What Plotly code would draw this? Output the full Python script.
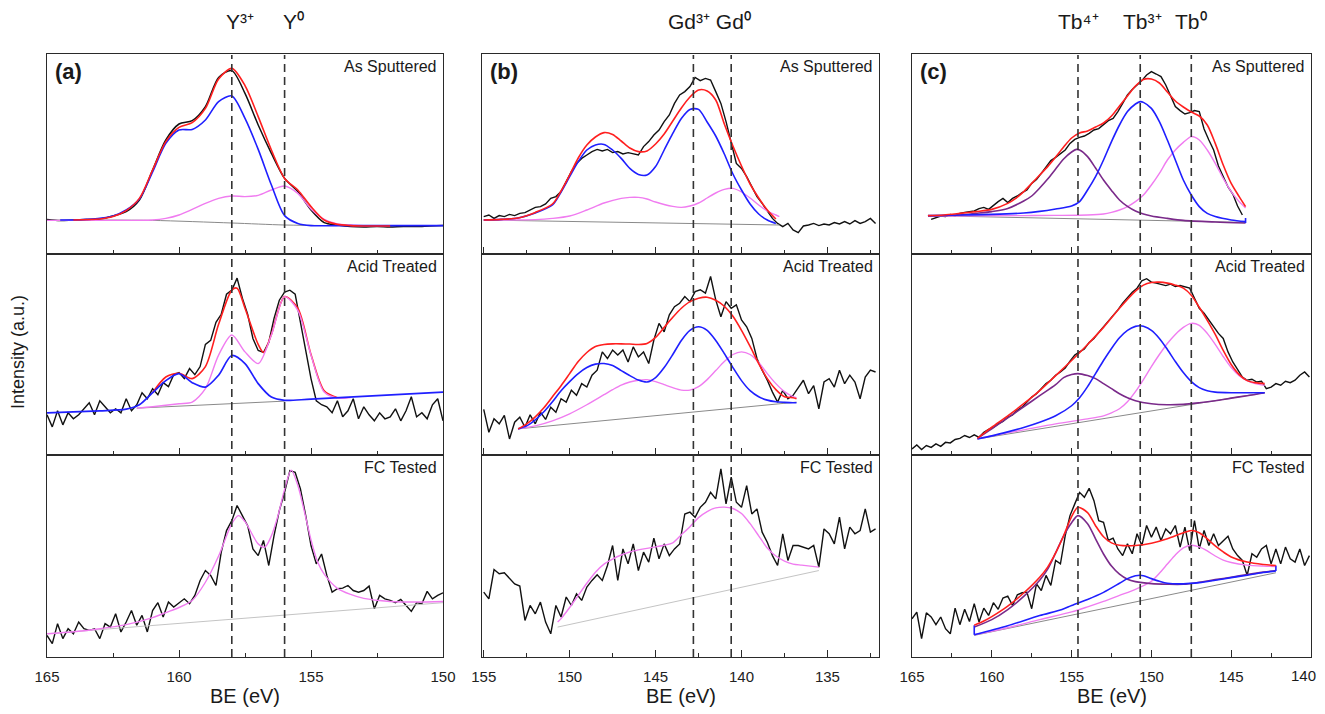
import numpy as np
import plotly.graph_objects as go

W, H = 1325, 714
OX, OY = 8, 8          # page offset of the figure inside the browser window
FONT = "Liberation Sans, Arial, Helvetica, sans-serif"

# ---------------- energy grids (eV) ----------------
BE_A = np.round(np.arange(165.0, 149.99, -0.2), 2)      # column (a) spectra
BE_A_SMOOTH = np.round(np.arange(165.0, 149.99, -0.5), 2)
BE_B = np.round(np.arange(155.0, 132.19, -0.3), 2)      # column (b) spectra
BE_C = np.round(np.arange(165.0, 140.09, -0.3), 2)      # column (c) spectra

# ---------------- (a) Y 3d ----------------
a_top_black = [17.3, 16.7, 17.0, 17.2, 17.5, 19.0, 21.2, 27.0, 42.0, 57.0, 65.0, 66.7, 73.7, 88.3, 91.7, 80.3,
               64.5, 50.3, 37.8, 31.2, 22.0, 15.7, 14.5, 13.7, 13.5, 13.7, 13.5, 13.8, 13.7, 14.0, 14.2]
a_top_red_x = [164, 163, 162.5, 162, 161.5, 161, 160.5, 160, 159.5, 159, 158.5, 158, 157.5, 157, 156.5, 156,
               155.5, 155, 154.5, 154, 153.5, 153, 152]
a_top_red = [17.0, 17.5, 18.7, 21.7, 27.8, 42.0, 56.2, 63.3, 65.7, 72.8, 87.5, 92.8, 84.2, 68.7, 52.0, 37.8,
             32.0, 23.7, 17.0, 14.8, 14.2, 14.0, 14.0]
a_top_blue_x = [164.5, 164, 163.5, 163, 162.5, 162, 161.5, 161, 160.5, 160, 159.5, 159, 158.5, 158, 157.5, 157,
                156.5, 156, 155.5, 155, 154, 152, 150]
a_top_blue = [17.0, 17.0, 17.3, 17.8, 19.0, 22.0, 27.5, 41.0, 55.3, 62.0, 62.3, 67.0, 76.2, 79.0, 67.8, 52.3,
              34.5, 19.2, 15.3, 14.2, 14.2, 14.2, 14.2]
a_top_pink_x = [165, 163, 161, 160.5, 160, 159.5, 159, 158.5, 158, 157.5, 157, 156.5, 156, 155.5, 155, 154.5,
                154, 153.5, 153, 152]
a_top_pink = [16.8, 16.8, 17.0, 17.8, 19.5, 22.3, 25.3, 27.8, 29.0, 28.7, 29.3, 32.0, 34.0, 30.3, 22.5, 17.3,
              15.0, 14.5, 14.2, 14.2]
a_top_gray_x = [163, 161, 158, 156, 154]
a_top_gray = [17.0, 16.8, 15.5, 14.5, 14.2]

a_mid_black = [20, 14, 22, 15, 21, 18, 20, 23, 26, 20, 27, 24, 21, 23, 21, 28, 22, 25, 31, 28,
               33, 30, 36, 34, 40, 41, 38, 43, 40, 44, 55, 57, 66, 70, 80, 82, 88, 78, 70, 58,
               52, 51, 56, 68, 77, 81, 82, 80, 66, 52, 38, 27, 25, 24, 21, 27, 19, 22, 28, 18,
               24, 20, 17, 21, 18, 19, 23, 17, 22, 29, 19, 21, 18, 25, 28, 17]
a_mid_blue_x = [165, 164, 163, 162, 161.5, 161, 160.5, 160, 159.5, 159, 158.5, 158, 157.5, 157, 156.5, 156,
                155, 150]
a_mid_blue = [21.0, 21.5, 22.0, 22.8, 25.0, 31.0, 37.0, 40.5, 36.0, 33.8, 39.7, 49.5, 45.5, 35.5, 28.8, 27.2,
              27.8, 31.3]
a_mid_pink_x = [161.6, 161, 160, 159.5, 159, 158.5, 158, 157.5, 157, 156.5, 156, 155.5, 155, 154.5, 154, 153.5]
a_mid_pink = [23.3, 24.0, 25.5, 26.3, 33.0, 49.7, 59.7, 51.3, 45.5, 59.7, 78.8, 72.0, 49.7, 31.3, 28.3, 28.6]
a_mid_red_x = [161, 160.5, 160, 159.5, 159, 158.5, 158, 157.8, 157.5, 157, 156.8, 156.5, 156, 155.5, 155,
               154.5, 154]
a_mid_red = [31.0, 38.8, 40.7, 38.0, 44.0, 65.0, 82.0, 83.0, 73.0, 55.0, 51.0, 60.0, 78.8, 73.0, 50.0, 32.0, 28.5]
a_mid_gray_x = [161.6, 156]
a_mid_gray = [23.3, 26.8]

a_bot_black = [10.7, 6.6, 16.5, 9.1, 14.0, 11.5, 17.3, 14.0, 13.2, 14.0, 9.1, 16.5, 14.8, 21.4, 12.4, 17.3,
               23.0, 15.7, 20.6, 12.4, 23.0, 26.9, 19.8, 27.2, 24.7, 26.9, 28.8, 26.4, 30.5, 37.9, 42.8, 40.4,
               35.4, 51.9, 62.6, 67.5, 75.0, 70.0, 65.0, 53.5, 50.2, 57.7, 45.3, 60.1, 72.5, 81.5, 92.3, 91.4,
               83.2, 70.0, 55.2, 46.1, 51.0, 40.4, 32.1, 33.8, 34.1, 35.4, 32.9, 32.1, 32.9, 35.1, 23.9, 30.5,
               28.8, 28.0, 26.9, 28.5, 25.5, 22.6, 26.9, 26.4, 32.5, 28.8, 30.5, 31.8]
a_bot_pink_x = [165, 164, 163, 162, 161, 160.5, 160, 159.5, 159, 158.5, 158, 157.75, 157.5, 157, 156.75, 156.5,
                156.25, 156, 155.75, 155.5, 155.25, 155, 154.75, 154.5, 154, 153.5, 153, 152, 151, 150]
a_bot_pink = [11.5, 12.5, 14.0, 16.0, 19.5, 22.0, 24.5, 28.0, 37.0, 50.0, 66.0, 70.0, 67.0, 56.0, 54.4, 60.0,
              70.0, 83.0, 92.5, 85.0, 72.0, 58.0, 47.0, 41.0, 34.0, 31.0, 29.0, 27.5, 27.2, 27.5]
a_bot_gray_x = [165, 150]
a_bot_gray = [11.5, 26.9]

# ---------------- (b) Gd 4d ----------------
b_top_black = [18.7, 19.5, 17.8, 19.2, 18.7, 19.8, 19.2, 20.3, 20.7, 22.0, 23.3, 23.7, 25.0, 27.8, 28.7, 31.2,
               36.2, 41.2, 45.3, 47.8, 49.5, 51.2, 52.3, 51.5, 52.3, 50.7, 51.2, 50.0, 50.7, 50.0, 49.5, 53.7,
               56.2, 59.5, 62.0, 66.2, 69.5, 75.3, 79.5, 81.2, 83.7, 88.3, 86.7, 87.8, 87.0, 81.2, 75.3, 66.2,
               56.2, 45.3, 42.8, 38.7, 33.7, 28.7, 25.3, 21.2, 17.8, 15.3, 13.7, 15.3, 12.0, 10.7, 14.0, 14.5,
               15.3, 14.2, 15.0, 14.5, 15.7, 15.0, 16.2, 15.0, 16.7, 15.3, 16.2, 17.8, 15.3]
b_top_fit_x = [155, 154, 153, 152, 151, 150.5, 150, 149.5, 149, 148.5, 148, 147.5, 147, 146.5, 146, 145.5, 145,
               144.5, 144, 143.5, 143, 142.5, 142, 141.5, 141, 140.5, 140, 139.5, 139, 138.5, 138]
b_top_red = [17.0, 17.3, 18.0, 20.8, 25.0, 31.5, 39.5, 48.0, 54.5, 58.5, 60.7, 59.8, 56.5, 53.0, 51.2, 51.5, 55.0,
             60.0, 66.5, 73.0, 78.5, 82.0, 81.5, 77.0, 65.0, 54.0, 44.0, 35.0, 28.0, 22.0, 17.5]
b_top_blue = [17.0, 17.3, 18.0, 20.5, 24.5, 31.0, 38.7, 46.2, 52.0, 54.5, 54.8, 52.0, 47.8, 42.8, 39.8, 39.5, 43.7,
              52.0, 60.3, 67.8, 72.3, 72.3, 66.0, 59.0, 50.0, 40.0, 32.0, 25.0, 20.0, 17.0, 15.3]
b_top_pink_x = [155, 152, 151, 150, 149, 148, 147, 146.5, 146, 145.5, 145, 144, 143.5, 143, 142.5, 142, 141.5,
                141, 140.5, 140, 139.5, 139, 138.5, 138, 137.8]
b_top_pink = [17.0, 17.2, 17.8, 19.0, 22.0, 25.5, 27.8, 28.3, 28.3, 27.5, 26.0, 23.8, 23.3, 24.0, 25.5, 28.0, 30.5,
              32.3, 32.8, 31.0, 28.0, 24.5, 21.5, 19.5, 18.7]
b_top_gray_x = [155, 137.8]
b_top_gray = [17.0, 14.5]

b_mid_black = [22.7, 11.3, 18.0, 15.5, 19.7, 8.0, 16.3, 18.8, 13.8, 20.0, 15.5, 21.3, 17.7, 23.8, 21.3, 28.0,
               26.3, 32.2, 29.7, 35.5, 33.8, 39.7, 42.2, 51.3, 48.0, 52.2, 49.7, 52.2, 46.3, 53.8, 48.8, 51.3,
               45.5, 57.2, 65.5, 61.3, 69.7, 73.8, 75.5, 78.8, 76.3, 81.3, 82.2, 80.5, 88.8, 77.2, 68.8, 76.3,
               73.0, 74.7, 67.2, 63.8, 58.0, 48.0, 42.2, 37.2, 31.3, 26.3, 32.2, 28.0, 29.7, 33.8, 37.2, 30.5,
               34.5, 23.0, 36.3, 38.0, 33.8, 42.2, 35.5, 39.7, 36.3, 28.0, 38.8, 42.2, 41.3]
b_mid_fit_x = [153, 152.5, 152, 151.5, 151, 150.5, 150, 149.5, 149, 148.5, 148, 147.5, 147, 146.5, 146, 145.5,
               145, 144.5, 144, 143.5, 143, 142.5, 142, 141.5, 141, 140.5, 140, 139.5, 139, 138.5, 138, 137.5,
               137, 136.8]
b_mid_red = [13.0, 15.5, 19.0, 23.5, 29.0, 34.5, 40.5, 46.5, 51.0, 54.0, 55.0, 55.3, 55.3, 55.2, 55.0, 55.5,
             58.5, 63.5, 68.5, 73.0, 76.3, 78.0, 78.5, 77.0, 74.0, 69.0, 62.0, 54.0, 45.5, 38.0, 32.5, 29.0,
             28.5, 28.0]
b_mid_blue = [13.0, 14.5, 17.5, 21.5, 26.5, 32.0, 36.5, 40.5, 43.5, 45.2, 45.5, 44.5, 42.0, 39.5, 37.3, 36.3,
              38.5, 43.5, 50.0, 57.0, 62.0, 63.8, 62.0, 57.0, 50.5, 43.5, 37.0, 32.0, 29.0, 27.3, 26.5, 26.2,
              26.0, 26.0]
b_mid_pink_x = [153, 152, 151, 150, 149, 148, 147.5, 147, 146.5, 146, 145.5, 145, 144.5, 144, 143.5, 143, 142.5,
                142, 141.5, 141, 140.5, 140, 139.5, 139, 138.5, 138, 137.5, 137, 136.8]
b_mid_pink = [13.0, 14.5, 17.0, 20.5, 25.0, 30.0, 32.5, 34.8, 36.3, 37.2, 37.5, 36.5, 35.0, 33.5, 32.3, 32.3, 34.0,
              37.5, 42.0, 46.5, 50.0, 51.3, 50.0, 46.0, 40.5, 35.5, 31.5, 29.0, 28.5]
b_mid_gray_x = [153, 136.8]
b_mid_gray = [13.0, 26.3]

b_bot_black = [32.1, 28.8, 43.3, 41.2, 41.7, 39.0, 36.2, 35.1, 18.1, 25.5, 21.4, 27.2, 17.3, 11.5, 25.5, 19.8,
               29.7, 25.5, 31.3, 28.0, 34.6, 37.9, 40.7, 37.9, 45.3, 55.2, 37.9, 53.5, 46.1, 56.0, 42.8, 51.9,
               47.0, 58.8, 48.6, 56.0, 50.2, 53.5, 56.0, 70.8, 71.7, 69.2, 74.1, 76.6, 81.5, 78.3, 93.1, 75.8,
               89.0, 76.6, 74.1, 84.8, 70.8, 73.3, 61.8, 56.8, 50.2, 45.3, 61.0, 47.8, 55.2, 55.2, 54.4, 53.5,
               55.2, 44.5, 63.4, 61.0, 56.0, 69.2, 53.5, 64.3, 61.0, 62.6, 73.3, 61.8, 63.4]
b_bot_pink_x = [150.7, 150.5, 150, 149.5, 149, 148.5, 148, 147.5, 147, 146.5, 146, 145.5, 145, 144.5, 144, 143.5,
                143, 142.5, 142, 141.5, 141, 140.5, 140, 139.5, 139, 138.5, 138, 137.5, 137, 136.5, 136, 135.5]
b_bot_pink = [17.3, 19.0, 24.5, 30.5, 36.5, 42.0, 46.0, 48.5, 50.5, 52.0, 53.0, 53.8, 54.5, 55.3, 56.5, 60.5,
              64.5, 69.0, 72.0, 73.8, 74.2, 73.5, 71.0, 66.0, 60.0, 54.0, 50.0, 47.5, 46.0, 45.5, 45.0, 44.5]
b_bot_gray_x = [150.7, 135.5]
b_bot_gray = [14.8, 42.8]

# ---------------- (c) Tb 4d ----------------
c_top_black = [None, None, None, None,
               17.3, 18.2, 19.0, 18.7, 19.7, 19.0, 20.3, 20.8, 21.0, 21.5,
               22.7, 23.3, 22.3, 24.5, 26.2, 27.8, 25.7, 27.8, 29.0, 30.7,
               32.0, 35.3, 37.3, 40.3, 43.7, 46.7, 48.3, 50.3, 52.0, 55.3,
               57.3, 58.3, 59.0, 60.3, 62.0, 62.7, 64.5, 66.7, 67.8, 71.2,
               75.3, 79.5, 82.3, 84.5, 86.7, 89.5, 91.2, 90.0, 88.7, 84.5,
               79.5, 73.7, 71.7, 70.0, 70.7, 71.7, 71.2, 62.5, 57.0, 52.0,
               44.0, 39.0, 33.5, 30.0, 24.0, 19.5,
               None, None, None, None, None, None, None, None, None, None, None, None, None, None]
c_top_red_x = [164, 163, 162, 161, 160, 159, 158.5, 158, 157.5, 157, 156.5, 156, 155.5, 155, 154.5, 154, 153.5,
               153, 152.5, 152, 151.5, 151, 150.5, 150, 149.5, 149, 148.5, 148, 147.5, 147, 146.5, 146, 145.5,
               145, 144.5, 144.1]
c_top_red = [19.2, 19.5, 20.3, 21.2, 22.3, 25.3, 27.8, 31.2, 35.3, 39.5, 43.7, 48.5, 53.5, 58.0, 60.5, 61.5, 63.5,
             65.5, 69.0, 74.0, 79.0, 84.0, 87.3, 87.5, 85.5, 81.0, 76.5, 73.5, 71.0, 69.0, 64.5, 55.3, 44.5,
             35.3, 28.7, 23.7]
c_top_blue_x = [164, 162, 160, 158, 157, 156, 155, 154.5, 154, 153.5, 153, 152.5, 152, 151.5, 151, 150.7, 150.5,
                150, 149.5, 149, 148.5, 148, 147.5, 147, 146.5, 146, 145, 144.1]
c_top_blue = [19.2, 19.5, 19.8, 20.5, 21.3, 22.5, 24.0, 26.2, 32.0, 38.7, 47.0, 56.2, 64.5, 71.2, 75.0, 76.2,
              75.8, 72.8, 66.2, 57.0, 47.0, 37.0, 29.5, 23.7, 20.3, 18.7, 17.0, 16.2]
c_top_edge_x = [144.1, 144.1]
c_top_edge = [15.5, 18.0]
c_top_purple_x = [164, 162, 161, 160, 159, 158, 157.5, 157, 156.5, 156, 155.5, 155, 154.7, 154.5, 154, 153.5,
                  153, 152.5, 152, 151.5, 151, 150.5, 150, 149, 148, 146, 144.1]
c_top_purple = [19.0, 19.5, 20.3, 21.2, 22.8, 26.5, 29.0, 33.0, 37.5, 42.5, 47.5, 51.0, 52.3, 52.0, 48.7, 43.0,
                37.0, 31.8, 27.0, 23.8, 21.5, 20.0, 19.0, 17.8, 16.8, 16.0, 15.5]
c_top_pink_x = [164, 158, 156, 154, 153, 152.5, 152, 151.5, 151, 150.5, 150, 149.5, 149, 148.5, 148, 147.5, 147,
                146.5, 146, 145.5, 145, 144.5, 144.1]
c_top_pink = [19.0, 19.2, 19.3, 19.5, 20.0, 20.8, 22.0, 23.7, 26.2, 29.5, 34.5, 40.3, 47.0, 52.0, 55.8, 58.7,
              57.0, 52.0, 45.3, 37.8, 31.2, 26.2, 23.0]
c_top_gray_x = [164, 144.1]
c_top_gray = [19.2, 15.8]

c_mid_black = [3.0, 5.0, 2.7, 4.7, 3.8, 5.5, 4.3, 6.3, 6.0, 7.7,
               8.3, 9.7, 8.7, 10.0, 8.8, 11.3, 12.7, 13.7, 15.5, 16.7,
               18.8, 20.0, 22.2, 23.8, 26.3, 28.8, 30.5, 33.0, 35.5, 37.2,
               39.7, 41.3, 43.3, 46.7, 49.7, 51.3, 52.7, 56.0, 58.0, 61.0,
               63.8, 66.3, 69.3, 72.2, 75.5, 78.3, 81.0, 83.0, 86.7, 87.7,
               86.0, 85.5, 85.0, 84.3, 85.0, 83.8, 84.3, 83.7, 83.0, 78.0,
               73.0, 70.5, 67.2, 63.8, 60.5, 58.0, 51.3, 46.3, 42.2, 38.8,
               37.2, 37.7, 36.3, 36.7, 33.0, 33.8, 35.5, 34.7, 36.7, 36.0,
               37.2, 39.7, 41.3, 38.8]
c_mid_red_x = [160.9, 160.5, 160, 159, 158, 157, 156, 155, 154, 153, 152, 151, 150.5, 150, 149.5, 149, 148.5,
               148, 147.5, 147, 146.5, 146, 145.5, 145, 144.5, 144, 143.5, 142.9]
c_mid_red = [8.3, 10.8, 13.8, 19.5, 25.5, 32.0, 39.5, 47.0, 55.0, 63.5, 73.0, 81.5, 84.5, 85.8, 86.0, 85.5, 84.5,
             83.0, 79.5, 73.5, 67.0, 60.0, 52.0, 45.0, 40.0, 37.0, 36.0, 35.5]
c_mid_blue_x = [160.9, 160, 159, 158, 157, 156, 155, 154.5, 154, 153.5, 153, 152.5, 152, 151.5, 151, 150.7,
                150.5, 150, 149.5, 149, 148.5, 148, 147.5, 147, 146.5, 146, 145, 142.9]
c_mid_blue = [8.0, 9.5, 11.5, 13.7, 16.3, 19.5, 24.5, 28.5, 34.0, 40.5, 47.0, 53.0, 58.3, 62.0, 64.0, 64.3,
              64.0, 62.0, 58.0, 52.5, 46.5, 41.0, 36.5, 33.5, 32.0, 31.3, 31.0, 31.0]
c_mid_purple_x = [160.9, 160, 159, 158, 157, 156, 155.5, 155, 154.6, 154, 153.5, 153, 152.5, 152, 151.5, 151,
                  150, 149, 148, 147, 146, 145, 144, 142.9]
c_mid_purple = [8.3, 13.0, 18.5, 24.0, 29.5, 35.0, 38.5, 40.0, 40.5, 39.5, 38.0, 35.5, 33.0, 30.5, 28.5, 27.0,
                25.5, 25.0, 25.2, 26.0, 27.0, 28.3, 29.5, 31.0]
c_mid_pink_x = [160.9, 160, 158, 156, 154, 153, 152.5, 152, 151.5, 151, 150.5, 150, 149.5, 149, 148.5, 148,
                147.5, 147, 146.5, 146, 145.5, 145, 144.5, 144, 143.5, 142.9]
c_mid_pink = [8.0, 9.5, 12.5, 15.5, 18.0, 19.5, 21.0, 23.0, 26.5, 31.5, 37.5, 44.0, 50.0, 55.5, 60.0, 63.5,
              65.5, 64.5, 60.5, 55.0, 49.0, 43.5, 39.5, 37.0, 35.5, 34.7]
c_mid_gray_x = [160.9, 142.9]
c_mid_gray = [8.0, 31.0]

c_bot_black = [18.9, 22.2, 9.1, 21.9, 19.8, 16.0, 19.8, 14.0, 11.5, 24.2,
               16.0, 23.6, 17.6, 26.4, 17.3, 24.2, 20.6, 26.9, 23.6, 29.2,
               30.1, 25.5, 30.8, 31.8, 32.1, 23.9, 36.2, 32.9, 40.4, 35.4,
               47.8, 46.1, 60.1, 70.0, 75.8, 81.5, 79.1, 83.5, 77.4, 67.5,
               66.7, 57.7, 58.8, 53.5, 50.2, 56.0, 51.1, 61.0, 55.2, 65.1,
               59.3, 64.3, 57.7, 63.4, 61.0, 65.1, 54.4, 64.3, 52.7, 67.5,
               53.5, 62.6, 55.2, 61.0, 55.2, 57.7, 59.8, 53.5, 50.2, 47.8,
               40.4, 51.1, 49.4, 53.5, 55.2, 46.1, 53.5, 46.1, 54.4, 48.6,
               47.0, 53.5, 45.3, 50.2]
c_bot_red_x = [161.1, 160.5, 160, 159, 158, 157, 156.5, 156, 155.5, 155, 154.6, 154, 153.5, 153, 152.5, 152,
               151, 150, 149, 148, 147.5, 147, 146.5, 146, 145.5, 145, 144, 143, 142.2]
c_bot_red = [15.7, 17.8, 20.0, 25.2, 31.7, 39.5, 44.5, 51.5, 60.0, 69.5, 74.1, 71.5, 65.0, 59.5, 56.5, 55.3,
             55.2, 56.3, 58.5, 61.5, 62.6, 61.5, 58.5, 55.0, 52.0, 49.5, 47.0, 45.8, 45.3]
c_bot_purple_x = [161.1, 160, 159, 158, 157, 156.5, 156, 155.5, 155, 154.6, 154, 153.5, 153, 152.5, 152, 151.5,
                  151, 150, 149, 148, 147, 146, 145, 144, 143, 142.2]
c_bot_purple = [14.8, 18.5, 23.5, 30.0, 38.0, 43.5, 51.5, 60.0, 66.5, 70.0, 66.0, 58.5, 51.0, 45.0, 41.0, 38.5,
                37.3, 36.3, 36.0, 36.0, 37.0, 38.3, 39.5, 40.8, 42.0, 42.8]
c_bot_blue_x = [161.1, 159, 157, 155.6, 155, 154, 153, 152, 151.5, 151, 150.7, 150.5, 150, 149.5, 149, 148,
                147, 146, 145, 144, 143, 142.2]
c_bot_blue = [11.0, 15.5, 20.5, 23.5, 25.5, 28.5, 32.0, 36.5, 38.8, 40.2, 40.5, 40.2, 38.8, 37.5, 36.5, 36.2,
              36.8, 38.0, 39.3, 40.5, 41.8, 42.6]
c_bot_edge_x = [161.1, 161.1, None, 142.2, 142.2]
c_bot_edge = [11.0, 15.7, None, 42.6, 45.3]
c_bot_pink_x = [161.1, 159, 157, 155, 154, 153, 152, 151, 150, 149.5, 149, 148.5, 148, 147.5, 147, 146.5, 146,
                145.5, 145, 144, 143, 142.2]
c_bot_pink = [11.0, 14.5, 18.5, 22.3, 24.8, 27.5, 30.5, 33.5, 37.5, 41.5, 46.0, 50.5, 54.0, 55.3, 54.5, 52.5,
              50.0, 48.0, 46.8, 45.5, 45.0, 44.8]
c_bot_gray_x = [161.1, 142.2]
c_bot_gray = [10.7, 41.7]

# reference lines / labels
dash_a = [158.0, 156.0]
dash_b = [142.8, 140.6]
dash_c = [154.6, 150.7, 147.5]
species_labels = ["Y³⁺", "Y⁰", "Gd³⁺ Gd⁰", "Tb⁴⁺", "Tb³⁺", "Tb⁰"]
panel_letters = ["(a)", "(b)", "(c)"]
row_labels = ["As Sputtered", "Acid Treated", "FC Tested"]
col_ticks = [[165, 160, 155, 150], [155, 150, 145, 140, 135], [165, 160, 155, 150, 145]]
edge_tick_label = "140"
x_title = "BE (eV)"
y_title = "Intensity (a.u.)"

# ---------------- styling / layout ----------------
BLACK = "#111111"
RED = "#ff1f1f"
BLUE = "#1f1fff"
PINK = "#f07cf0"
PURPLE = "#7a2a8a"
GRAY = "#8a8a8a"
LGRAY = "#c4c4c4"
AX = "#2a2a2a"

COLS = [(47, 443, [165, 150]), (482, 879, [155.1, 132.0]), (912, 1311, [165, 140])]
ROWS = [(54, 254), (254, 455), (455, 657)]


def PX(x):
    return (x - OX) / W


def PY(y):
    return 1 - (y - OY) / H


fig = go.Figure()


def ax_id(r, c):
    return r * 3 + c + 1


def add(r, c, x, y, color, width=1.5, shape="spline"):
    i = ax_id(r, c)
    fig.add_trace(go.Scatter(
        x=list(x), y=y, mode="lines",
        line=dict(color=color, width=width, shape=shape, smoothing=0.8 if shape == "spline" else None),
        xaxis="x" if i == 1 else f"x{i}", yaxis="y" if i == 1 else f"y{i}",
        hoverinfo="skip", showlegend=False, connectgaps=False))


# column a
add(0, 0, BE_A_SMOOTH, a_top_black, BLACK, 1.5)
add(0, 0, a_top_gray_x, a_top_gray, GRAY, 1.0)
add(0, 0, a_top_pink_x, a_top_pink, PINK, 1.4)
add(0, 0, a_top_blue_x, a_top_blue, BLUE, 1.6)
add(0, 0, a_top_red_x, a_top_red, RED, 1.6)

add(1, 0, BE_A, a_mid_black, BLACK, 1.4, "linear")
add(1, 0, a_mid_gray_x, a_mid_gray, GRAY, 1.0)
add(1, 0, a_mid_red_x, a_mid_red, RED, 1.6)
add(1, 0, a_mid_pink_x, a_mid_pink, PINK, 1.4)
add(1, 0, a_mid_blue_x, a_mid_blue, BLUE, 1.7)

add(2, 0, BE_A, a_bot_black, BLACK, 1.4, "linear")
add(2, 0, a_bot_gray_x, a_bot_gray, LGRAY, 1.0)
add(2, 0, a_bot_pink_x, a_bot_pink, PINK, 1.4)

# column b
add(0, 1, BE_B, b_top_black, BLACK, 1.4, "linear")
add(0, 1, b_top_gray_x, b_top_gray, GRAY, 1.0)
add(0, 1, b_top_pink_x, b_top_pink, PINK, 1.4)
add(0, 1, b_top_fit_x, b_top_blue, BLUE, 1.6)
add(0, 1, b_top_fit_x, b_top_red, RED, 1.6)

add(1, 1, BE_B, b_mid_black, BLACK, 1.4, "linear")
add(1, 1, b_mid_gray_x, b_mid_gray, GRAY, 1.0)
add(1, 1, b_mid_pink_x, b_mid_pink, PINK, 1.4)
add(1, 1, b_mid_fit_x, b_mid_blue, BLUE, 1.6)
add(1, 1, b_mid_fit_x, b_mid_red, RED, 1.6)

add(2, 1, BE_B, b_bot_black, BLACK, 1.4, "linear")
add(2, 1, b_bot_gray_x, b_bot_gray, LGRAY, 1.0)
add(2, 1, b_bot_pink_x, b_bot_pink, PINK, 1.4)

# column c
add(0, 2, BE_C, c_top_black, BLACK, 1.4, "linear")
add(0, 2, c_top_gray_x, c_top_gray, GRAY, 1.0)
add(0, 2, c_top_pink_x, c_top_pink, PINK, 1.4)
add(0, 2, c_top_purple_x, c_top_purple, PURPLE, 1.6)
add(0, 2, c_top_blue_x, c_top_blue, BLUE, 1.6)
add(0, 2, c_top_edge_x, c_top_edge, BLUE, 1.6, "linear")
add(0, 2, c_top_red_x, c_top_red, RED, 1.6)

add(1, 2, BE_C, c_mid_black, BLACK, 1.4, "linear")
add(1, 2, c_mid_gray_x, c_mid_gray, GRAY, 1.0)
add(1, 2, c_mid_pink_x, c_mid_pink, PINK, 1.4)
add(1, 2, c_mid_purple_x, c_mid_purple, PURPLE, 1.6)
add(1, 2, c_mid_blue_x, c_mid_blue, BLUE, 1.6)
add(1, 2, c_mid_red_x, c_mid_red, RED, 1.6)

add(2, 2, BE_C, c_bot_black, BLACK, 1.4, "linear")
add(2, 2, c_bot_gray_x, c_bot_gray, GRAY, 1.0)
add(2, 2, c_bot_pink_x, c_bot_pink, PINK, 1.4)
add(2, 2, c_bot_purple_x, c_bot_purple, PURPLE, 1.6)
add(2, 2, c_bot_blue_x, c_bot_blue, BLUE, 1.6)
add(2, 2, c_bot_edge_x, c_bot_edge, BLUE, 1.6, "linear")
add(2, 2, c_bot_red_x, c_bot_red, RED, 1.6)

layout = dict(width=W, height=H, margin=dict(l=0, r=0, t=0, b=0, pad=0, autoexpand=False),
              paper_bgcolor="white", plot_bgcolor="white", showlegend=False,
              font=dict(family=FONT, color="#222222"))
for r, (top, bot) in enumerate(ROWS):
    for c, (left, right, rng) in enumerate(COLS):
        i = ax_id(r, c)
        xa = "xaxis" if i == 1 else f"xaxis{i}"
        ya = "yaxis" if i == 1 else f"yaxis{i}"
        layout[xa] = dict(domain=[PX(left), PX(right)], range=rng, automargin=False,
                          anchor="y" if i == 1 else f"y{i}",
                          showline=True, mirror=True, linecolor=AX, linewidth=1.2,
                          ticks="inside", ticklen=7, tickwidth=1, tickcolor=AX,
                          tickmode="array", tickvals=col_ticks[c],
                          minor=dict(ticks="inside", ticklen=4, tickwidth=1, tickcolor=AX,
                                     tickmode="linear", tick0=0, dtick=2.5, showgrid=False),
                          showticklabels=(r == 2), tickfont=dict(size=15, color="#222"),
                          ticklabelstandoff=6,
                          showgrid=False, zeroline=False, fixedrange=True)
        layout[ya] = dict(domain=[PY(bot), PY(top)], range=[0, 100], automargin=False,
                          anchor="x" if i == 1 else f"x{i}",
                          showline=True, mirror=True, linecolor=AX, linewidth=1.2,
                          ticks="", showticklabels=False, showgrid=False, zeroline=False,
                          fixedrange=True)
fig.update_layout(**layout)

# dashed reference lines spanning all three rows
shapes = []
for c, dl in enumerate([dash_a, dash_b, dash_c]):
    xr = f"x{ax_id(2, c)}"
    for v in dl:
        shapes.append(dict(type="line", xref=xr, yref="paper", x0=v, x1=v,
                           y0=PY(657), y1=PY(55),
                           line=dict(color="#333333", width=1.6, dash="8px,5px")))
fig.update_layout(shapes=shapes)

ann = []


def txt(x, y, s, size, xanchor="center", bold=False, angle=0):
    ann.append(dict(x=PX(x), y=PY(y), xref="paper", yref="paper", text=f"<b>{s}</b>" if bold else s,
                    showarrow=False, xanchor=xanchor, yanchor="middle", textangle=angle,
                    font=dict(size=size, family=FONT, color="#1a1a1a")))


# species labels above the columns
for (xpos, s) in zip([240, 293, 710, 1078, 1142, 1191], species_labels):
    txt(xpos, 21, s, 21)

# panel letters
for (left, right, _), s in zip(COLS, panel_letters):
    txt(left + 6, 71, s, 22, xanchor="left", bold=True)

# row state labels
for (left, right, _) in COLS:
    for (top, bot), s in zip(ROWS, row_labels):
        txt(right - 4, top + 12, s, 16, xanchor="right")

# right-most tick label, kept inside the visible window
txt(1318, 675, edge_tick_label, 15, xanchor="right")

# axis titles
for (left, right, _) in COLS:
    txt((left + right) / 2, 696, x_title, 20)
txt(18, 352, y_title, 18, angle=-90)

fig.update_layout(annotations=ann)
fig.write_html("out.html")
